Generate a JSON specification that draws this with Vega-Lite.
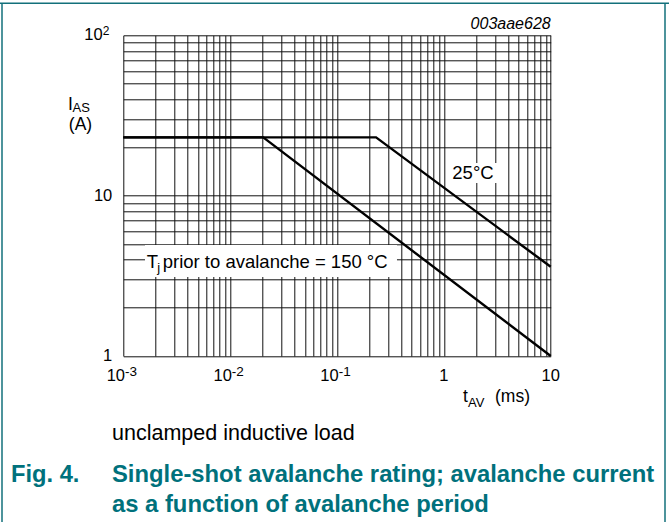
{
  "$schema": "https://vega.github.io/schema/vega-lite/v6.json",
  "width": 427.4,
  "height": 320.7,
  "autosize": {"type": "none"},
  "padding": {"left": 123.3, "top": 35.3, "right": 118.3, "bottom": 166},
  "background": "white",
  "data": {"values": [{"one": 1}]},
  "config": {"view": {"stroke": null}, "font": "Liberation Sans", "text": {"font": "Liberation Sans", "color": "#000"}},
  "layer": [
    {
      "data": {"values": [
        {"Tj": "25", "t": 0.001, "I": 23.1},
        {"Tj": "25", "t": 0.232, "I": 23.1},
        {"Tj": "25", "t": 10, "I": 3.6},
        {"Tj": "150", "t": 0.001, "I": 23.1},
        {"Tj": "150", "t": 0.0204, "I": 23.1},
        {"Tj": "150", "t": 10, "I": 1.0}
      ]},
      "mark": {"type": "line", "color": "#000", "strokeWidth": 2.4},
      "encoding": {
        "x": {
          "field": "t", "type": "quantitative",
          "scale": {"type": "log", "domain": [0.001, 10], "nice": false},
          "axis": {
            "values": [0.001,0.002,0.003,0.004,0.005,0.006,0.007,0.008,0.009,0.01,0.02,0.03,0.04,0.05,0.06,0.07,0.08,0.09,0.1,0.2,0.3,0.4,0.5,0.6,0.7,0.8,0.9,1,2,3,4,5,6,7,8,9,10],
            "grid": true, "gridColor": "#111", "gridWidth": 1, "gridOpacity": 1,
            "ticks": false, "domain": false, "labels": false, "title": null
          }
        },
        "y": {
          "field": "I", "type": "quantitative",
          "scale": {"type": "log", "domain": [1, 100], "nice": false},
          "axis": {
            "values": [1,2,3,4,5,6,7,8,9,10,20,30,40,50,60,70,80,90,100],
            "grid": true, "gridColor": "#111", "gridWidth": 1, "gridOpacity": 1,
            "ticks": false, "domain": false, "labels": false, "title": null
          }
        },
        "detail": {"field": "Tj", "type": "nominal"}
      }
    },
    {
      "data": {"values": [
        {"t1": 1.14, "t2": 3.35, "i1": 12.0, "i2": 16.0},
        {"t1": 0.001596, "t2": 0.3642, "i1": 3.11, "i2": 4.92}
      ]},
      "mark": {"type": "rect", "color": "white"},
      "encoding": {
        "x": {"field": "t1", "type": "quantitative"},
        "x2": {"field": "t2"},
        "y": {"field": "i1", "type": "quantitative"},
        "y2": {"field": "i2"}
      }
    },
    {
      "data": {"values": [
        {"t": 0.001, "b": "10", "e": "-3"},
        {"t": 0.01, "b": "10", "e": "-2"},
        {"t": 0.1, "b": "10", "e": "-1"}
      ]},
      "layer": [
        {
          "mark": {"type": "text", "fontSize": 16.5, "color": "#000", "align": "right", "baseline": "alphabetic", "dx": 1.7, "dy": 24.7},
          "encoding": {
            "x": {"field": "t", "type": "quantitative"},
            "y": {"datum": 1},
            "text": {"field": "b"}
          }
        },
        {
          "mark": {"type": "text", "fontSize": 13.5, "color": "#000", "align": "left", "baseline": "alphabetic", "dx": 1.7, "dy": 19.7},
          "encoding": {
            "x": {"field": "t", "type": "quantitative"},
            "y": {"datum": 1},
            "text": {"field": "e"}
          }
        }
      ]
    },
    {
      "data": {"values": [
        {"t": 1, "b": "1"},
        {"t": 10, "b": "10"}
      ]},
      "mark": {"type": "text", "fontSize": 16.5, "color": "#000", "align": "center", "baseline": "alphabetic", "dy": 24.7},
      "encoding": {
        "x": {"field": "t", "type": "quantitative"},
        "y": {"datum": 1},
        "text": {"field": "b"}
      }
    },
    {
      "data": {"values": [
        {"I": 10, "b": "10"},
        {"I": 1, "b": "1"}
      ]},
      "mark": {"type": "text", "fontSize": 16.5, "color": "#000", "align": "right", "baseline": "middle", "dx": -11},
      "encoding": {
        "x": {"datum": 0.001},
        "y": {"field": "I", "type": "quantitative"},
        "text": {"field": "b"}
      }
    },
    {
      "data": {"values": [{"I": 100, "b": "10", "e": "2"}]},
      "layer": [
        {
          "mark": {"type": "text", "fontSize": 16.5, "color": "#000", "align": "right", "baseline": "middle", "dx": -20.6},
          "encoding": {
            "x": {"datum": 0.001},
            "y": {"field": "I", "type": "quantitative"},
            "text": {"field": "b"}
          }
        },
        {
          "mark": {"type": "text", "fontSize": 12, "color": "#000", "align": "left", "baseline": "alphabetic", "dx": -20.6, "dy": -0.3},
          "encoding": {
            "x": {"datum": 0.001},
            "y": {"field": "I", "type": "quantitative"},
            "text": {"field": "e"}
          }
        }
      ]
    },
    {
      "mark": {"type": "text", "text": "I", "fontSize": 17.5, "color": "#000", "align": "left", "baseline": "alphabetic", "dx": -55.3, "dy": 74.2},
      "encoding": {"x": {"datum": 0.001}, "y": {"datum": 100}}
    },
    {
      "mark": {"type": "text", "text": "AS", "fontSize": 13, "color": "#000", "align": "left", "baseline": "alphabetic", "dx": -50.8, "dy": 76.8},
      "encoding": {"x": {"datum": 0.001}, "y": {"datum": 100}}
    },
    {
      "mark": {"type": "text", "text": "(A)", "fontSize": 17.5, "color": "#000", "align": "left", "baseline": "alphabetic", "dx": -54.5, "dy": 94.3},
      "encoding": {"x": {"datum": 0.001}, "y": {"datum": 100}}
    },
    {
      "mark": {"type": "text", "text": "t", "fontSize": 17.5, "color": "#000", "align": "left", "baseline": "alphabetic", "dx": -87.6, "dy": 45.7},
      "encoding": {"x": {"datum": 10}, "y": {"datum": 1}}
    },
    {
      "mark": {"type": "text", "text": "AV", "fontSize": 13, "color": "#000", "align": "left", "baseline": "alphabetic", "dx": -82.6, "dy": 50.8},
      "encoding": {"x": {"datum": 10}, "y": {"datum": 1}}
    },
    {
      "mark": {"type": "text", "text": "(ms)", "fontSize": 17.5, "color": "#000", "align": "left", "baseline": "alphabetic", "dx": -55.7, "dy": 45.7},
      "encoding": {"x": {"datum": 10}, "y": {"datum": 1}}
    },
    {
      "mark": {"type": "text", "text": "003aae628", "fontSize": 16, "color": "#000", "fontStyle": "italic", "align": "right", "baseline": "alphabetic", "dy": -6},
      "encoding": {"x": {"datum": 10}, "y": {"datum": 100}}
    },
    {
      "data": {"values": [{"t": 1.874, "I": 13.75, "label": "25°C"}]},
      "mark": {"type": "text", "fontSize": 18.5, "color": "#000", "align": "center", "baseline": "middle"},
      "encoding": {
        "x": {"field": "t", "type": "quantitative"},
        "y": {"field": "I", "type": "quantitative"},
        "text": {"field": "label"}
      }
    },
    {
      "mark": {"type": "text", "text": "T", "fontSize": 18.5, "color": "#000", "align": "left", "baseline": "alphabetic"},
      "encoding": {"x": {"datum": 0.001656}, "y": {"datum": 3.523}}
    },
    {
      "mark": {"type": "text", "text": "j", "fontSize": 13, "color": "#000", "align": "left", "baseline": "alphabetic", "dx": 10.6, "dy": 3.2},
      "encoding": {"x": {"datum": 0.001656}, "y": {"datum": 3.523}}
    },
    {
      "mark": {"type": "text", "text": "prior to avalanche = 150 °C", "fontSize": 18.5, "color": "#000", "align": "left", "baseline": "alphabetic", "dx": 16},
      "encoding": {"x": {"datum": 0.001656}, "y": {"datum": 3.523}}
    },
    {
      "mark": {"type": "text", "text": "unclamped inductive load", "fontSize": 21.5, "color": "#000", "align": "left", "baseline": "alphabetic", "dx": -11.3, "dy": 84},
      "encoding": {"x": {"datum": 0.001}, "y": {"datum": 1}}
    },
    {
      "mark": {"type": "text", "text": "Fig. 4.", "fontSize": 23.7, "fontWeight": "bold", "color": "#00717c", "align": "left", "baseline": "alphabetic", "dx": -112.3, "dy": 126},
      "encoding": {"x": {"datum": 0.001}, "y": {"datum": 1}}
    },
    {
      "mark": {"type": "text", "text": ["Single-shot avalanche rating; avalanche current", "as a function of avalanche period"], "lineHeight": 30, "fontSize": 23.8, "fontWeight": "bold", "color": "#00717c", "align": "left", "baseline": "alphabetic", "dx": -11.3, "dy": 126},
      "encoding": {"x": {"datum": 0.001}, "y": {"datum": 1}}
    },
    {
      "mark": {"type": "rule", "color": "#13707b", "strokeWidth": 1.5, "xOffset": -123.3, "x2Offset": 118.3, "yOffset": -32},
      "encoding": {"x": {"datum": 0.001}, "x2": {"datum": 10}, "y": {"datum": 100}}
    },
    {
      "mark": {"type": "rule", "color": "#13707b", "strokeWidth": 1.5, "xOffset": -121.3, "yOffset": -32, "y2Offset": 166},
      "encoding": {"x": {"datum": 0.001}, "y": {"datum": 100}, "y2": {"datum": 1}}
    },
    {
      "mark": {"type": "rule", "color": "#13707b", "strokeWidth": 1.5, "xOffset": 114.3, "yOffset": -32, "y2Offset": 166},
      "encoding": {"x": {"datum": 10}, "y": {"datum": 100}, "y2": {"datum": 1}}
    }
  ]
}
